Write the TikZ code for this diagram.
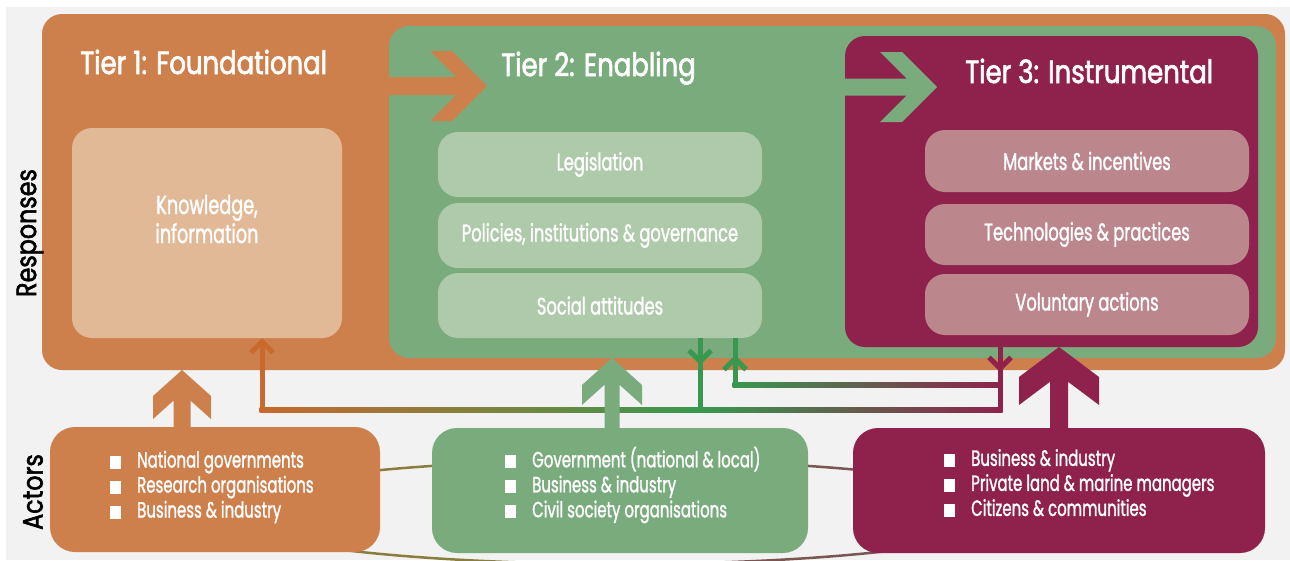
\documentclass[tikz,border=0pt]{standalone}
\usepackage{fontspec}
\usepackage{tikz}
\usetikzlibrary{arrows.meta}
\setmainfont{Poppins}
\newfontfamily\headfont{Poppins}[FakeStretch=0.81,FakeBold=2]
\newfontfamily\bodyfont{Poppins}[FakeStretch=0.68,FakeBold=1.3]
\newfontfamily\sidefont{Poppins}[FakeStretch=0.85,FakeBold=2]
\definecolor{pagebg}{HTML}{F2F2F2}
\definecolor{foundc}{HTML}{CD804C}
\definecolor{foundl}{HTML}{E2B996}
\definecolor{enabc}{HTML}{7AAB7C}
\definecolor{enabl}{HTML}{AFCAAA}
\definecolor{instc}{HTML}{8E224C}
\definecolor{instl}{HTML}{BC868D}
\definecolor{fbfound}{HTML}{C8692D}
\definecolor{fbenab}{HTML}{38984F}
\definecolor{linkl}{HTML}{8A7E3E}
\definecolor{linkr}{HTML}{7A5552}
\newcommand{\sq}{\rule[-1pt]{11pt}{13pt}\hspace{16pt}}
\tikzset{
 panel/.style={anchor=north west, inner sep=0pt, outer sep=0pt, rounded corners=20pt},
 tiertitle/.style={anchor=base west, text=white, inner sep=0pt, font=\headfont\fontsize{32}{36}\selectfont},
 resp/.style={panel, text=white, align=center, minimum width=324pt, font=\bodyfont\fontsize{24}{28}\selectfont},
 actor/.style={panel, rounded corners=25pt, minimum height=125pt},
 actortext/.style={anchor=west, align=left, text=white, inner sep=0pt, font=\bodyfont\fontsize{22}{25}\selectfont},
 side/.style={rotate=90, inner sep=0pt, font=\sidefont\fontsize{28}{32}\selectfont},
 fb/.style={line width=5pt},
 fbtip/.style={-{Straight Barb[length=11pt,width=22pt]}},
 link/.style={line width=2.5pt},
 pics/chev/.style n args={5}{code={
  \fill[pic actions] (0,0) -- ({#2},{#3}) -- ({#2},{#3+#4}) -- ({#5},{#3+#4-(#2-#5)*#3/#2}) -- ({#5},{#1})
   -- ({-#5},{#1}) -- ({-#5},{#3+#4-(#2-#5)*#3/#2}) -- ({-#2},{#3+#4}) -- ({-#2},{#3}) -- cycle;
 }}
}
\begin{document}
\begin{tikzpicture}[x=1pt,y=-1pt]
\useasboundingbox (0,0) rectangle (1290,560);
\fill[white] (0,0) rectangle (1290,560);
\fill[pagebg] (6,7) rectangle (1290,560);
\node[panel, fill=foundc, minimum width=1243pt, minimum height=356pt] (T1) at (42,14) {};
\node[panel, fill=enabc, minimum width=887pt, minimum height=332pt] (T2) at (389,26) {};
\node[panel, fill=instc, minimum width=413pt, minimum height=311pt] (T3) at (845,36) {};
\node[tiertitle] (H1) at (80,74) {Tier 1: Foundational};
\node[tiertitle] (H2) at (501,76) {Tier 2: Enabling};
\node[tiertitle] (H3) at (965,83) {Tier 3: Instrumental};
\pic[fill=foundc, rotate=-90] at (487,86) {chev={98}{35}{35}{22}{9}};
\pic[fill=enabc, rotate=-90] at (937,87) {chev={92}{35}{35}{22}{8.5}};
\node[panel, fill=foundl, minimum width=270pt, minimum height=210pt] (K) at (72,128) {};
\node[text=white, align=center, font=\bodyfont\fontsize{26}{29}\selectfont] (Kt) at ([yshift=14pt]K.center) {Knowledge,\\information};
\node[resp, fill=enabl, minimum height=65pt] (E1) at (438,132) {Legislation};
\node[resp, fill=enabl, minimum height=65pt] (E2) at (438,203) {Policies, institutions \& governance};
\node[resp, fill=enabl, minimum height=65pt] (E3) at (438,273) {Social attitudes};
\node[resp, fill=instl, minimum height=62pt] (I1) at (925,130) {Markets \& incentives};
\node[resp, fill=instl, minimum height=61pt] (I2) at (925,204) {Technologies \& practices};
\node[resp, fill=instl, minimum height=61pt] (I3) at (925,274) {Voluntary actions};
\begin{scope}
\clip (0,400) rectangle (620,560);
\draw[link, linkl] (620,512) ellipse [x radius=405, y radius=52];
\end{scope}
\begin{scope}
\clip (620,400) rectangle (1290,560);
\draw[link, linkr] (620,512) ellipse [x radius=405, y radius=52];
\end{scope}
\node[actor, fill=foundc, minimum width=330pt] (A1) at (50,427) {};
\node[actor, fill=enabc, minimum width=376pt] (A2) at (432,428) {};
\node[actor, fill=instc, minimum width=412pt] (A3) at (853,428) {};
\node[actortext] (A1t) at (110,487) {\sq National governments\\\sq Research organisations\\\sq Business \& industry};
\node[actortext] (A2t) at (505,485) {\sq Government (national \& local)\\\sq Business \& industry\\\sq Civil society organisations};
\node[actortext] (A3t) at (944,483) {\sq Business \& industry\\\sq Private land \& marine managers\\\sq Citizens \& communities};
\node[side] (R) at (30,233) {Responses};
\node[side] (Ac) at (33,492) {Actors};
\coordinate (kb) at (262,410);
\coordinate (eb) at (700,410);
\coordinate (ib) at (1000,410);
\coordinate (im) at (1000,385);
\coordinate (em) at (735,385);
\shade[left color=fbfound, right color=fbenab] ([shift={(-2.5pt,2.5pt)}]kb) rectangle ([yshift=-2.5pt]eb);
\shade[left color=fbenab, right color=instc] ([yshift=2.5pt]eb) rectangle ([shift={(2.5pt,-2.5pt)}]ib);
\shade[left color=fbenab, right color=instc] ([shift={(-2.5pt,2.5pt)}]em) rectangle ([shift={(2.5pt,-2.5pt)}]im);
\draw[fb, fbfound, fbtip] (kb) -- (K.south -| kb);
\draw[fb, fbenab, fbtip] (E3.south -| eb) -- (700,365);
\draw[fb, fbenab] (700,362) -- (eb);
\draw[fb, fbenab, fbtip] (em) -- (735,355);
\draw[fb, fbenab] (735,358) -- (E3.south -| em);
\draw[fb, instc, fbtip] (T3.south -| ib) -- (1000,372);
\draw[fb, instc] (1000,369) -- (ib);
\pic[fill=foundc] at (182,0 |- T1.south) {chev={58}{29}{26}{23}{8.5}};
\pic[fill=enabc] at (612,0 |- T2.south) {chev={70}{30}{27}{20}{7.5}};
\pic[fill=instc] at (1059,0 |- T3.south) {chev={81}{40}{30}{28}{9}};
\end{tikzpicture}
\end{document}
